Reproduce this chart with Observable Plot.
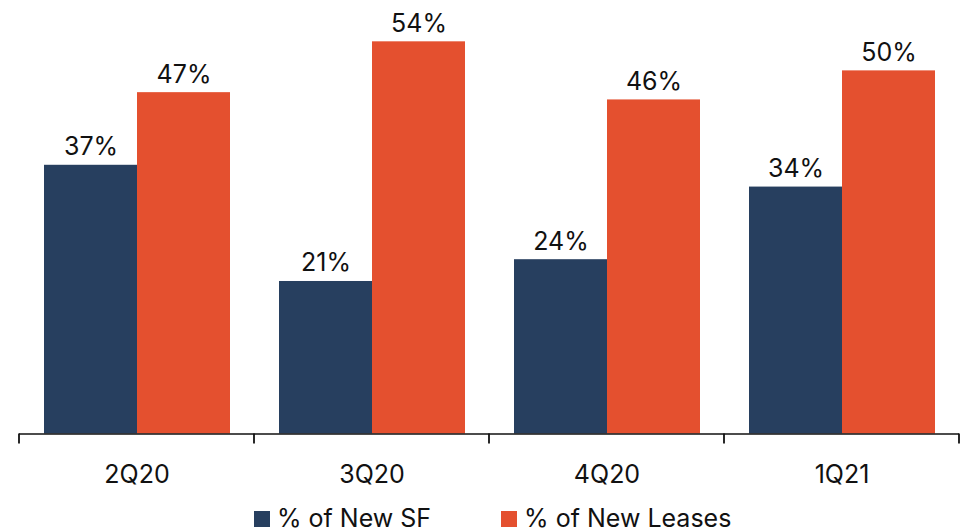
<!DOCTYPE html>
<html>
<head>
<meta charset="utf-8">
<script src="https://cdn.jsdelivr.net/npm/d3@7"></script>
<script src="https://cdn.jsdelivr.net/npm/@observablehq/plot@0.6"></script>
<style>
  html, body { margin: 0; padding: 0; background: #fff; overflow: hidden; }
  #chart svg { display: block; }
  .legend {
    display: flex; align-items: center; height: 37px; margin-top: 5px;
    padding-left: 254px; font-family: Inter, "Noto Sans", sans-serif;
    font-size: 25px; color: #111; line-height: 25px;
  }
  .legend .sw { width: 16px; height: 16px; margin-right: 7px; flex: none; }
  .legend .item { display: flex; align-items: center; margin-right: 70px; }
</style>
</head>
<body>
<div id="chart"></div>
<script>
// Quarters and the share of new square footage / new leases per quarter
const quarters = ["2Q20", "3Q20", "4Q20", "1Q21"];
const seriesNames = ["% of New SF", "% of New Leases"];
const newSF = [37, 21, 24, 34];
const newLeases = [47, 54, 46, 50];
const colors = ["#273f5f", "#e4502f"];

const rows = quarters.flatMap((q, i) => [
  {quarter: q, series: seriesNames[0], value: newSF[i]},
  {quarter: q, series: seriesNames[1], value: newLeases[i]}
]);

const height = 495;
const chart = Plot.plot({
  width: 965,
  height,
  marginLeft: 19,
  marginRight: 6,
  marginTop: 0,
  marginBottom: 61.5,
  style: {fontFamily: "Inter, 'Noto Sans', sans-serif", fontSize: "25px", color: "#111", background: "#fff"},
  fx: {domain: quarters, padding: 0, label: null, axis: null},
  x: {domain: seriesNames, paddingInner: 0, paddingOuter: 0.256, axis: null},
  y: {domain: [0, 59.69], axis: null},
  color: {domain: seriesNames, range: colors},
  marks: [
    Plot.barY(rows, {fx: "quarter", x: "series", y: "value", fill: "series"}),
    Plot.text(rows, {
      fx: "quarter", x: "series", y: "value",
      text: d => `${d.value}%`, dy: -10, lineAnchor: "bottom",
      fill: "#111", fontSize: 25
    }),
    Plot.ruleY([0], {stroke: "#111", strokeWidth: 1.6}),
    Plot.axisFx({anchor: "bottom", tickSize: 0, tickPadding: 31, fontSize: 25, label: null, fill: "#111"})
  ]
});

// tick marks at the boundaries between quarter groups
const fx = chart.scale("fx");
const y = chart.scale("y");
const edges = fx.domain.map(d => fx.apply(d)).concat(fx.apply(fx.domain[fx.domain.length - 1]) + fx.bandwidth);
const y0 = y.apply(0);
d3.select(chart).append("g")
  .attr("stroke", "#111").attr("stroke-width", 1.8)
  .selectAll("line").data(edges).join("line")
  .attr("x1", d => d).attr("x2", d => d)
  .attr("y1", y0).attr("y2", y0 + 10);

document.getElementById("chart").append(chart);

// legend below the chart
const legend = document.createElement("div");
legend.className = "legend";
seriesNames.forEach((name, i) => {
  const item = document.createElement("div");
  item.className = "item";
  const sw = document.createElement("span");
  sw.className = "sw";
  sw.style.background = colors[i];
  const label = document.createElement("span");
  label.textContent = name;
  item.append(sw, label);
  legend.append(item);
});
document.body.append(legend);
</script>
</body>
</html>
